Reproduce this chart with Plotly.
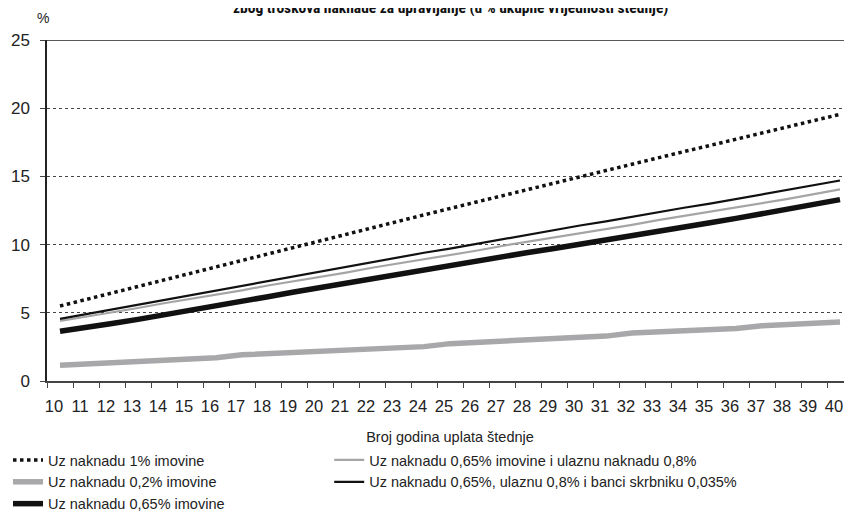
import plotly.graph_objects as go

years = [str(y) for y in range(10, 41)]

fee_1pct = [5.50, 5.98, 6.46, 6.95, 7.43, 7.91, 8.40, 8.88, 9.35, 9.83, 10.30,
            10.77, 11.24, 11.71, 12.18, 12.65, 13.12, 13.59, 14.05, 14.52, 14.98,
            15.44, 15.90, 16.36, 16.82, 17.27, 17.72, 18.17, 18.62, 19.07, 19.55]
fee_065_entry = [4.40, 4.70, 5.05, 5.35, 5.70, 6.00, 6.35, 6.65, 7.00, 7.30, 7.65,
                 7.95, 8.30, 8.60, 8.95, 9.25, 9.55, 9.90, 10.20, 10.50, 10.85,
                 11.15, 11.45, 11.80, 12.10, 12.40, 12.75, 13.05, 13.35, 13.70, 14.05]
fee_02 = [1.15, 1.23, 1.31, 1.40, 1.49, 1.58, 1.70, 1.92, 2.00, 2.08, 2.16,
          2.24, 2.32, 2.41, 2.52, 2.74, 2.83, 2.92, 3.01, 3.10, 3.19,
          3.29, 3.52, 3.60, 3.68, 3.76, 3.85, 4.05, 4.13, 4.22, 4.32]
fee_065_entry_cust = [4.55, 4.90, 5.20, 5.55, 5.90, 6.25, 6.60, 6.95, 7.30, 7.65, 8.00,
                      8.35, 8.70, 9.05, 9.40, 9.70, 10.05, 10.40, 10.75, 11.05, 11.40,
                      11.70, 12.05, 12.35, 12.70, 13.00, 13.35, 13.70, 14.00, 14.35, 14.70]
fee_065 = [3.65, 3.90, 4.22, 4.52, 4.87, 5.20, 5.52, 5.85, 6.18, 6.52, 6.85,
           7.18, 7.52, 7.85, 8.20, 8.50, 8.80, 9.10, 9.42, 9.72, 10.05,
           10.35, 10.68, 10.98, 11.30, 11.60, 11.92, 12.25, 12.55, 12.95, 13.30]

names = ["Uz naknadu 1% imovine",
         "Uz naknadu 0,65% imovine i ulaznu naknadu 0,8%",
         "Uz naknadu 0,2% imovine",
         "Uz naknadu 0,65%, ulaznu 0,8% i banci skrbniku 0,035%",
         "Uz naknadu 0,65% imovine"]

title_text = "zbog troškova naknade za upravljanje (u % ukupne vrijednosti štednje)"
x_title = "Broj godina uplata štednje"
y_ticks = [0, 5, 10, 15, 20, 25]

FONT = "Liberation Sans, Arial, sans-serif"

fig = go.Figure()
fig.add_trace(go.Scatter(x=years, y=fee_1pct, name=names[0], mode="lines", legend="legend",
                         line=dict(color="#111111", width=3.5, dash="dot")))
fig.add_trace(go.Scatter(x=years, y=fee_065_entry, name=names[1], mode="lines", legend="legend2",
                         line=dict(color="#a5a5a8", width=2.2)))
fig.add_trace(go.Scatter(x=years, y=fee_02, name=names[2], mode="lines", legend="legend",
                         line=dict(color="#a8a8ab", width=5.5)))
fig.add_trace(go.Scatter(x=years, y=fee_065_entry_cust, name=names[3], mode="lines", legend="legend2",
                         line=dict(color="#111111", width=2.2)))
fig.add_trace(go.Scatter(x=years, y=fee_065, name=names[4], mode="lines", legend="legend",
                         line=dict(color="#111111", width=5.5)))

leg_common = dict(orientation="v", yanchor="top", xanchor="left",
                  xref="container", yref="container",
                  font=dict(size=14.5, color="#222222"), tracegroupgap=0,
                  bgcolor="rgba(0,0,0,0)", itemwidth=30)

fig.update_layout(
    width=852, height=528,
    margin=dict(l=39, r=7, t=32, b=155, autoexpand=False),
    paper_bgcolor="white", plot_bgcolor="white",
    font=dict(family=FONT, size=15, color="#222222"),
    showlegend=True,
    legend=dict(x=0.0, y=0.1742, **leg_common),
    legend2=dict(x=0.377, y=0.1742, **leg_common),
    xaxis=dict(type="category", range=[-0.5, 30.5], tickangle=0,
               showline=True, linecolor="#444444", linewidth=1.5,
               ticks="outside", ticklen=5, tickcolor="#444444", tickson="boundaries",
               showgrid=False, tickfont=dict(size=16.5, color="#222222"),
               ticklabelstandoff=9, ticklabelshift=-6,
               title=dict(text=x_title, font=dict(size=14.5, color="#222222"), standoff=18)),
    yaxis=dict(range=[0, 25], tickvals=y_ticks, showline=True, linecolor="#222222",
               linewidth=1.5, ticks="outside", ticklen=5, tickcolor="#444444",
               showgrid=True, gridcolor="#444444", gridwidth=1, griddash="dot",
               zeroline=False, tickfont=dict(size=17, color="#222222"),
               ticklabelstandoff=7),
    shapes=[dict(type="line", xref="paper", yref="y", x0=0, x1=1, y0=25, y1=25,
                 line=dict(color="#222222", width=1.5))],
    annotations=[
        dict(text="<b>" + title_text + "</b>", xref="paper", yref="paper",
             x=0.5, y=1.0616, xanchor="center", yanchor="bottom", showarrow=False,
             font=dict(size=15.5, family="Liberation Sans Narrow, Roboto Condensed, Arial Narrow, Liberation Sans, sans-serif", color="#111111")),
        dict(text="%", xref="paper", yref="paper", x=-0.005, y=1.0645,
             xanchor="center", yanchor="middle", showarrow=False,
             font=dict(size=14, color="#222222")),
    ],
)

fig.write_html("out.html")
